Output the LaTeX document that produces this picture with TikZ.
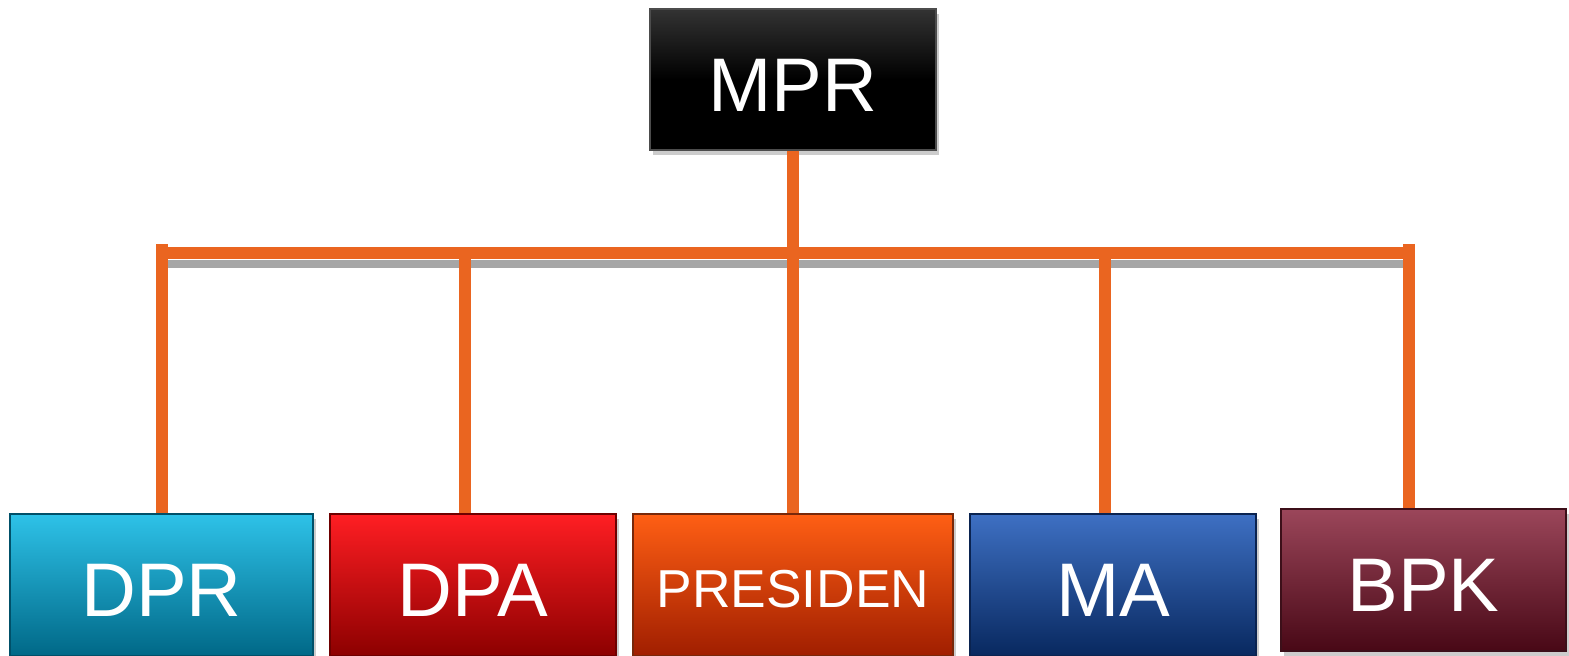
\documentclass[tikz,border=0pt]{standalone}
\usepackage{fontspec}
\setmainfont{Liberation Sans}
\usetikzlibrary{shadows}
\definecolor{conn}{HTML}{EA6520}
\definecolor{barshadow}{HTML}{A6A6A6}
\tikzset{
  orgbox/.style={rectangle, inner sep=0pt, text=white, font=\fontsize{38}{42}\selectfont,
    text depth=0pt, text height=32pt,
    drop shadow={shadow xshift=1.5pt, shadow yshift=-2.5pt, opacity=0.4}},
  conline/.style={draw=conn, line width=6pt},
}
\begin{document}
\begin{tikzpicture}[x=0.5pt,y=-0.5pt]
\useasboundingbox (0,0) rectangle (1569,656);
% boxes
\node[orgbox, minimum width=143pt, minimum height=70.5pt, top color=black!80, bottom color=black, middle color=black, draw=black!70, line width=0.6pt] (MPR) at (793,79.5) {MPR};
\node[orgbox, minimum width=151.5pt, minimum height=71pt, top color={rgb,255:red,46;green,194;blue,232}, bottom color={rgb,255:red,0;green,104;blue,135}, draw={rgb,255:red,0;green,80;blue,105}, line width=0.6pt] (DPR) at (161.5,585) {DPR};
\node[orgbox, minimum width=143pt, minimum height=71pt, top color={rgb,255:red,255;green,30;blue,35}, bottom color={rgb,255:red,140;green,0;blue,0}, draw={rgb,255:red,110;green,0;blue,0}, line width=0.6pt] (DPA) at (473,585) {DPA};
\node[orgbox, minimum width=160pt, minimum height=71pt, font=\fontsize{26.7}{30}\selectfont, text height=23pt, top color={rgb,255:red,255;green,95;blue,20}, bottom color={rgb,255:red,160;green,30;blue,0}, draw={rgb,255:red,120;green,40;blue,10}, line width=0.6pt] (PRES) at (793,585) {PRESIDEN};
\node[orgbox, minimum width=143pt, minimum height=71pt, top color={rgb,255:red,62;green,112;blue,195}, bottom color={rgb,255:red,8;green,40;blue,95}, draw={rgb,255:red,10;green,35;blue,80}, line width=0.6pt] (MA) at (1113,585) {MA};
\node[orgbox, minimum width=142.5pt, minimum height=71pt, top color={rgb,255:red,155;green,70;blue,90}, bottom color={rgb,255:red,72;green,8;blue,22}, draw={rgb,255:red,60;green,15;blue,25}, line width=0.6pt] (BPK) at (1423.5,580) {BPK};
% bar coordinates
\coordinate (barL) at (157,253);
\coordinate (barR) at (1415,253);
\coordinate (jMPR) at (793,253);
\coordinate (tDPR) at (162,244);
\coordinate (tDPA) at (465,248);
\coordinate (tMA) at (1105,248);
\coordinate (tBPK) at (1409,244);
% bar shadow and bar
\draw[draw=barshadow, line width=4pt] ([shift={(3,11)}]barL) -- ([shift={(-8,11)}]barR);
\draw[conline] (barL) -- (barR);
% connectors
\draw[conline] (MPR.south) -- (jMPR);
\draw[conline] (jMPR) -- (PRES.north);
\draw[conline] (tDPR) -- (tDPR |- DPR.north);
\draw[conline] (tDPA) -- (tDPA |- DPA.north);
\draw[conline] (tMA) -- (tMA |- MA.north);
\draw[conline] (tBPK) -- (tBPK |- BPK.north);
\end{tikzpicture}
\end{document}
